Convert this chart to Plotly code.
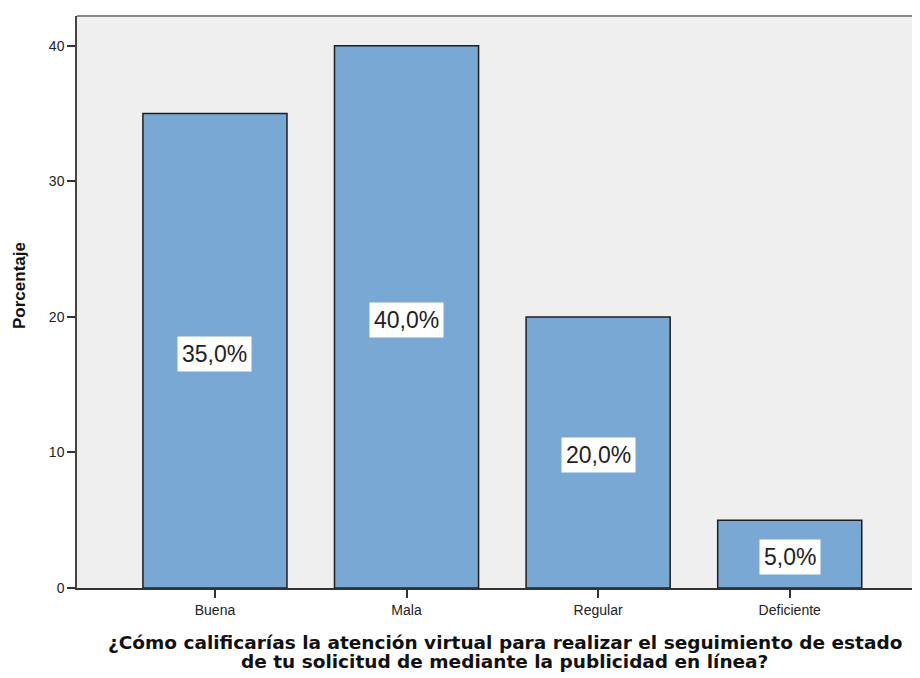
import plotly.graph_objects as go

categories = ["Buena", "Mala", "Regular", "Deficiente"]
percentages = [35.0, 40.0, 20.0, 5.0]
label_texts = ["35,0%", "40,0%", "20,0%", "5,0%"]
y_ticks = [0, 10, 20, 30, 40]
x_title_lines = [
    "¿Cómo calificarías la atención virtual para realizar el seguimiento de estado",
    "de tu solicitud de mediante la publicidad en línea?",
]
y_title = "Porcentaje"

FONT = "Liberation Sans, Arial, sans-serif"
TFONT = "DejaVu Sans, Liberation Sans, Arial, sans-serif"

fig = go.Figure()
fig.add_trace(go.Bar(
    x=list(range(len(categories))),
    y=percentages,
    width=0.752,
    marker=dict(color="#79A8D4", line=dict(color="#1E1E1E", width=1.5)),
    hoverinfo="skip",
))

for i, (v, t) in enumerate(zip(percentages, label_texts)):
    fig.add_annotation(
        x=i, y=v / 2, text=t, showarrow=False, yshift=-3,
        font=dict(family=FONT, size=23, color="#222222"),
        bgcolor="white", borderpad=4,
    )

fig.update_layout(
    width=912, height=670,
    margin=dict(l=69, r=0, t=8, b=90),
    paper_bgcolor="white",
    plot_bgcolor="#EFEFEF",
    showlegend=False,
    font=dict(family=FONT, color="#222222"),
)

fig.update_xaxes(
    range=[-0.72, 3.68],
    tickmode="array",
    tickvals=list(range(len(categories))),
    ticktext=categories,
    ticks="outside", ticklen=8, tickwidth=1.5, tickcolor="#333333",
    tickfont=dict(size=14, color="#222222"),
    showgrid=False, zeroline=False,
    showline=True, linecolor="#333333", linewidth=1.5,
)
fig.update_yaxes(
    range=[0, 42.2],
    tickmode="array", tickvals=y_ticks,
    ticks="outside", ticklen=8, tickwidth=1.5, tickcolor="#333333",
    tickfont=dict(size=14, color="#222222"),
    showgrid=False, zeroline=False,
    showline=True, linecolor="#444444", linewidth=1.5,
)

# y-axis title
fig.add_annotation(
    xref="paper", yref="paper", x=0, y=0.528, xshift=-57,
    text="<b>" + y_title + "</b>", textangle=-90, showarrow=False,
    font=dict(family=FONT, size=17, color="#111111"),
    xanchor="center", yanchor="middle",
)

# x-axis title (two lines)
for k, line in enumerate(x_title_lines):
    fig.add_annotation(
        xref="paper", yref="paper", x=0.5077, y=0, yshift=-54 - 19 * k,
        text="<b>" + line + "</b>", showarrow=False,
        font=dict(family=TFONT, size=18.5, color="#111111"),
        xanchor="center", yanchor="middle",
    )

# top border of plot area
fig.add_shape(type="line", xref="paper", yref="paper", x0=0, x1=1, y0=1, y1=1,
              line=dict(color="#888888", width=2))

fig.write_html("out.html")
